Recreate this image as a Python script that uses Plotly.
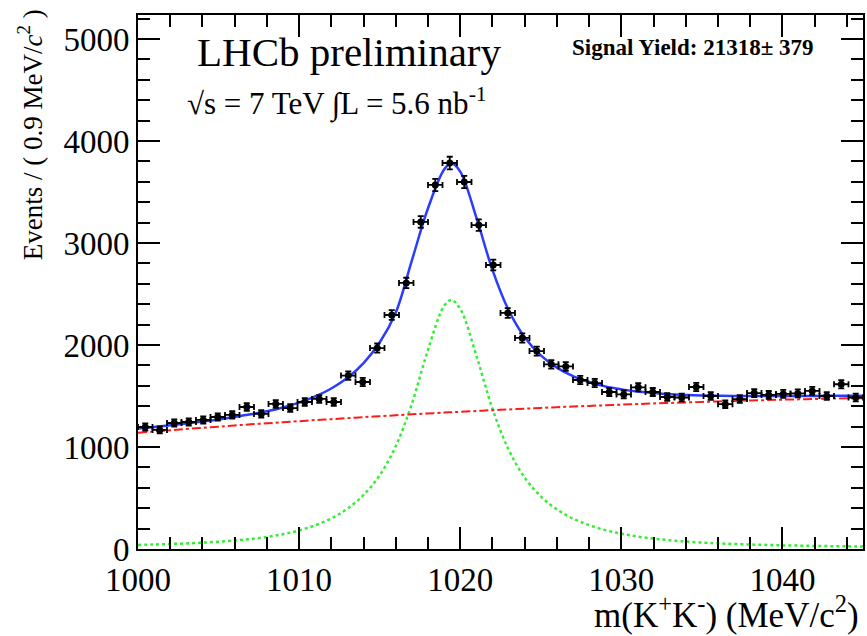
import numpy as np
import plotly.graph_objects as go

# ---- data points (50 bins of 0.9 MeV from 1000 to 1045) ----
bin_lo = 1000.0
bin_w = 0.9
counts = [1196, 1167, 1235, 1245, 1265, 1294, 1314, 1392, 1324, 1422,
          1382, 1441, 1471, 1441, 1700, 1637, 1970, 2294, 2608, 3206,
          3569, 3784, 3598, 3176, 2784, 2314, 2069, 1940, 1810, 1790,
          1657, 1627, 1539, 1515, 1585, 1539, 1490, 1485, 1588, 1500,
          1420, 1470, 1529, 1510, 1520, 1525, 1550, 1500, 1615, 1485]

# ---- fit curves ----
curve_m = [1000, 1001, 1002, 1003, 1004, 1005, 1006, 1007, 1008, 1009,
           1010, 1011, 1012, 1013, 1014, 1015, 1016, 1017, 1018, 1019,
           1019.45, 1020, 1021, 1022, 1023, 1024, 1025, 1026, 1027, 1028,
           1029, 1030, 1031, 1032, 1033, 1034, 1035, 1036, 1037, 1038,
           1039, 1040, 1041, 1042, 1043, 1044, 1045]
total_fit = [1180, 1196, 1213, 1231, 1250, 1270, 1294, 1320, 1350, 1388,
             1435, 1496, 1573, 1678, 1823, 2024, 2319, 2830, 3340, 3720,
             3781, 3700, 3250, 2737, 2343, 2076, 1898, 1778, 1695, 1637,
             1594, 1565, 1543, 1529, 1518, 1510, 1505, 1502, 1500, 1500,
             1500, 1500, 1500, 1501, 1502, 1503, 1503]
background_fit = [1140, 1152, 1164, 1176, 1188, 1199, 1211, 1222, 1232, 1243,
                  1253, 1264, 1273, 1283, 1293, 1302, 1311, 1320, 1329, 1337,
                  1341, 1345, 1353, 1361, 1368, 1376, 1383, 1390, 1397, 1403,
                  1409, 1415, 1421, 1427, 1432, 1437, 1442, 1447, 1451, 1456,
                  1460, 1464, 1467, 1471, 1474, 1477, 1479]
signal_fit = [40, 44, 49, 55, 62, 71, 83, 98, 118, 145,
              182, 232, 300, 395, 530, 722, 1008, 1424, 1952, 2383,
              2440, 2355, 1897, 1376, 975, 700, 515, 388, 298, 234,
              185, 150, 122, 102, 86, 73, 63, 55, 49, 44,
              40, 36, 33, 30, 28, 26, 24]

x_ticks = [1000, 1010, 1020, 1030, 1040]
y_ticks = [0, 1000, 2000, 3000, 4000, 5000]

centers = bin_lo + bin_w * (np.arange(len(counts)) + 0.5)
errs = np.sqrt(np.array(counts, dtype=float))

FONT = "Liberation Serif"

fig = go.Figure()
fig.add_trace(go.Scatter(x=curve_m, y=signal_fit, mode="lines",
                         line=dict(color="#33ee33", width=2.5, dash="dot", shape="spline"),
                         hoverinfo="skip"))
fig.add_trace(go.Scatter(x=curve_m, y=background_fit, mode="lines",
                         line=dict(color="#ff1a1a", width=2, dash="dashdot", shape="spline"),
                         hoverinfo="skip"))
fig.add_trace(go.Scatter(x=curve_m, y=total_fit, mode="lines",
                         line=dict(color="#2a3cff", width=2.5, shape="spline"),
                         hoverinfo="skip"))
fig.add_trace(go.Scatter(x=centers, y=counts, mode="markers",
                         marker=dict(color="black", size=7, symbol="circle"),
                         error_x=dict(type="constant", value=bin_w / 2, color="black",
                                      thickness=1.8, width=3),
                         error_y=dict(type="data", array=errs, color="black",
                                      thickness=1.8, width=3)))

fig.update_layout(
    width=867, height=636,
    margin=dict(l=138, r=2, t=15, b=87),
    paper_bgcolor="white", plot_bgcolor="white",
    showlegend=False,
    font=dict(family=FONT, color="black"),
    xaxis=dict(range=[1000, 1045], tickvals=x_ticks, ticks="inside", ticklen=22,
               tickwidth=2, tickcolor="black", showline=True, linewidth=2,
               linecolor="black", mirror="allticks", showgrid=False, zeroline=False,
               tickfont=dict(family=FONT, size=33, color="black"),
               minor=dict(dtick=2, ticks="inside", ticklen=12, tickwidth=2,
                          tickcolor="black", showgrid=False)),
    yaxis=dict(range=[0, 5235], tickvals=y_ticks, ticks="inside", ticklen=22,
               tickwidth=2, tickcolor="black", showline=True, linewidth=2,
               linecolor="black", mirror="allticks", showgrid=False, zeroline=False,
               tickfont=dict(family=FONT, size=33, color="black"),
               minor=dict(dtick=200, ticks="inside", ticklen=12, tickwidth=2,
                          tickcolor="black", showgrid=False)),
    annotations=[
        dict(text="LHCb preliminary", xref="paper", yref="paper", x=0.078, y=0.931,
             xanchor="left", yanchor="middle", showarrow=False,
             font=dict(family=FONT, size=41, color="black")),
        dict(text="√s = 7 TeV ∫L = 5.6 nb<sup>-1</sup>", xref="paper", yref="paper",
             x=0.065, y=0.837, xanchor="left", yanchor="middle", showarrow=False,
             font=dict(family=FONT, size=31, color="black")),
        dict(text="<b>Signal Yield: 21318± 379</b>", xref="paper", yref="paper",
             x=0.596, y=0.940, xanchor="left", yanchor="middle", showarrow=False,
             font=dict(family=FONT, size=23, color="black")),
        dict(text="m(K<sup>+</sup>K<sup>-</sup>) (MeV/c<sup>2</sup>)", xref="paper",
             yref="paper", x=0.997, y=-0.118, xanchor="right", yanchor="middle",
             showarrow=False, font=dict(family=FONT, size=35, color="black")),
        dict(text="Events / ( 0.9 MeV/<i>c</i><sup>2</sup> )", xref="paper", yref="paper",
             x=-0.148, y=1.015, xanchor="center", yanchor="top", textangle=-90,
             showarrow=False, font=dict(family=FONT, size=27, color="black")),
    ],
)

fig.write_html("out.html")
